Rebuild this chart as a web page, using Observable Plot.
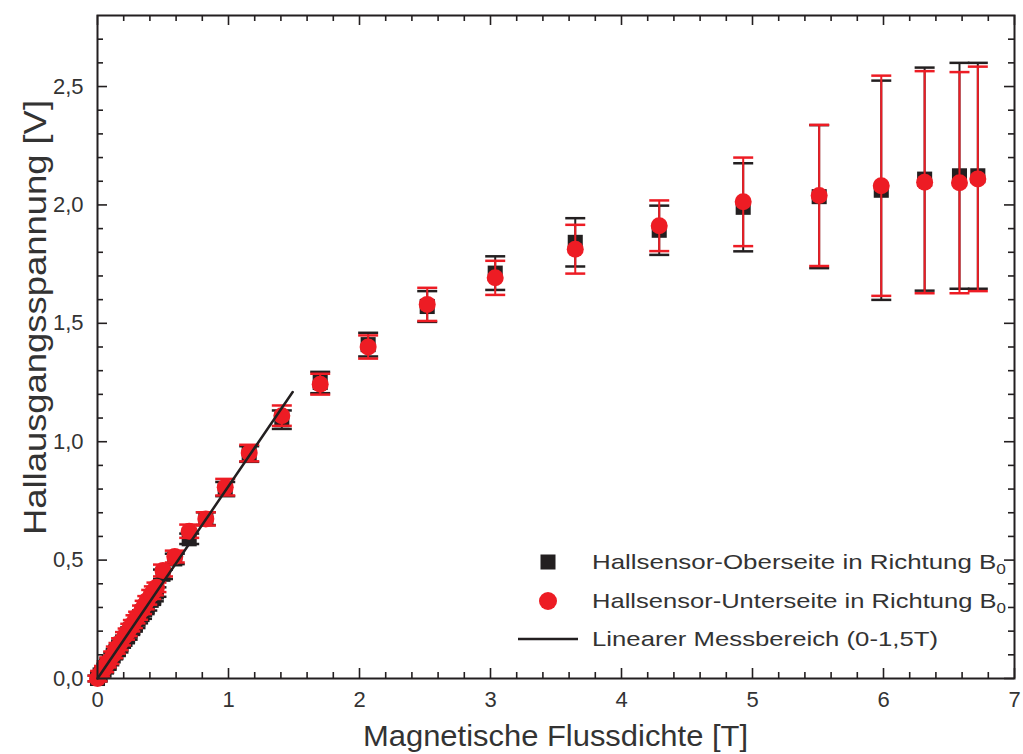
<!DOCTYPE html>
<html>
<head>
<meta charset="utf-8">
<script src="https://cdn.jsdelivr.net/npm/d3@7"></script>
<script src="https://cdn.jsdelivr.net/npm/@observablehq/plot@0.6"></script>
<style>
  html, body { margin: 0; padding: 0; background: #fff; }
  #chart { width: 1023px; height: 754px; }
</style>
</head>
<body>
<div id="chart"></div>
<script>
// Magnetic flux density B [T] at each measurement step
const fluxB = [0, 0.02, 0.05, 0.07, 0.09, 0.12, 0.14, 0.16, 0.18, 0.21, 0.23, 0.25, 0.27, 0.29, 0.31, 0.34, 0.36, 0.38, 0.41, 0.43, 0.45,
  0.50, 0.59, 0.70, 0.827, 0.975, 1.158, 1.407, 1.70, 2.066, 2.517, 3.036, 3.647, 4.288, 4.929, 5.509, 5.983, 6.314, 6.58, 6.72];

// Hall sensor, top side facing B0: output voltage [V] and uncertainty
const topV = [0, 0.015, 0.035, 0.05, 0.07, 0.095, 0.11, 0.125, 0.145, 0.165, 0.18, 0.20, 0.215, 0.23, 0.25, 0.27, 0.29, 0.305, 0.33, 0.345, 0.365,
  0.44, 0.505, 0.59, 0.675, 0.80, 0.948, 1.093, 1.25, 1.41, 1.571, 1.712, 1.842, 1.893, 1.99, 2.035, 2.062, 2.109, 2.123, 2.123];
const topErr = [0.012, 0.012, 0.013, 0.013, 0.014, 0.014, 0.015, 0.015, 0.015, 0.016, 0.016, 0.016, 0.017, 0.017, 0.017, 0.018, 0.018, 0.018, 0.019, 0.019, 0.02,
  0.02, 0.022, 0.022, 0.027, 0.03, 0.033, 0.039, 0.045, 0.05, 0.065, 0.071, 0.102, 0.104, 0.186, 0.302, 0.463, 0.471, 0.477, 0.477];

// Hall sensor, bottom side facing B0: output voltage [V] and uncertainty
const bottomV = [0, 0.02, 0.04, 0.06, 0.075, 0.10, 0.12, 0.135, 0.155, 0.18, 0.195, 0.215, 0.23, 0.25, 0.265, 0.29, 0.31, 0.33, 0.355, 0.37, 0.385,
  0.456, 0.515, 0.622, 0.674, 0.808, 0.952, 1.11, 1.243, 1.40, 1.58, 1.692, 1.813, 1.912, 2.013, 2.04, 2.081, 2.096, 2.094, 2.11];
const bottomErr = [0.012, 0.012, 0.013, 0.013, 0.014, 0.014, 0.015, 0.015, 0.015, 0.016, 0.016, 0.016, 0.017, 0.017, 0.017, 0.018, 0.018, 0.018, 0.019, 0.019, 0.02,
  0.025, 0.025, 0.028, 0.028, 0.035, 0.035, 0.043, 0.044, 0.049, 0.07, 0.072, 0.103, 0.107, 0.187, 0.298, 0.465, 0.469, 0.467, 0.474];

// Linear measuring range (0–1.5 T) fit line
const fitB = [0, 1.49];
const fitV = [0, 1.21];

// Axis ticks
const xMajor = [0, 1, 2, 3, 4, 5, 6, 7];
const xMinor = d3.range(1, 35).map(i => +(i * 0.2).toFixed(1)).filter(v => !Number.isInteger(v));
const yMajor = [0, 0.5, 1.0, 1.5, 2.0, 2.5];
const yMinor = d3.range(1, 28).map(i => +(i * 0.1).toFixed(1)).filter(v => Math.abs(v * 2 - Math.round(v * 2)) > 1e-6);

const legendLabels = [
  ["Hallsensor-Oberseite in Richtung B", "0"],
  ["Hallsensor-Unterseite in Richtung B", "0"],
  ["Linearer Messbereich (0-1,5T)", ""]
];
const xTitle = "Magnetische Flussdichte [T]";
const yTitle = "Hallausgangsspannung [V]";

const BLACK = "#231f20";
const RED = "#ed1c24";
const TEXT = "#333333";

const topSide = fluxB.map((B, i) => ({B, V: topV[i], err: topErr[i]}));
const bottomSide = fluxB.map((B, i) => ({B, V: bottomV[i], err: bottomErr[i]}));
const fit = fitB.map((B, i) => ({B, V: fitV[i]}));

// Horizontal error-bar cap with a fixed pixel width
const capSymbol = {
  draw(context, size) {
    const w = Math.sqrt(size / Math.PI);
    context.moveTo(-w, 0);
    context.lineTo(w, 0);
  }
};

const W = 1023, H = 754;
const mL = 97, mR = 9, mT = 15, mB = 76;
const innerW = W - mL - mR, innerH = H - mT - mB;
const majorLen = 10, minorLen = 6;

const commaFmt = d => d.toFixed(1).replace(".", ",");

function errorMarks(data, color) {
  return [
    Plot.ruleX(data, {x: "B", y1: d => d.V - d.err, y2: d => d.V + d.err, stroke: color, strokeWidth: 2}),
    Plot.dot(data, {x: "B", y: d => d.V + d.err, symbol: capSymbol, r: 10, fill: "none", stroke: color, strokeWidth: 2.5}),
    Plot.dot(data, {x: "B", y: d => d.V - d.err, symbol: capSymbol, r: 10, fill: "none", stroke: color, strokeWidth: 2.5})
  ];
}

const plot = Plot.plot({
  width: W,
  height: H,
  marginLeft: mL,
  marginRight: mR,
  marginTop: mT,
  marginBottom: mB,
  style: {fontFamily: "'Liberation Sans', Arial, sans-serif", fontSize: "22px", background: "#fff", color: TEXT},
  x: {domain: [0, 7]},
  y: {domain: [0, 2.8]},
  marks: [
    // inward ticks on all four sides
    Plot.ruleX(xMajor, {x: d => d, insetTop: innerH - majorLen, stroke: BLACK, strokeWidth: 1.6}),
    Plot.ruleX(xMinor, {x: d => d, insetTop: innerH - minorLen, stroke: BLACK, strokeWidth: 1.6}),
    Plot.ruleX(xMajor, {x: d => d, insetBottom: innerH - majorLen, stroke: BLACK, strokeWidth: 1.6}),
    Plot.ruleX(xMinor, {x: d => d, insetBottom: innerH - minorLen, stroke: BLACK, strokeWidth: 1.6}),
    Plot.ruleY(yMajor, {y: d => d, insetRight: innerW - majorLen, stroke: BLACK, strokeWidth: 1.6}),
    Plot.ruleY(yMinor, {y: d => d, insetRight: innerW - minorLen, stroke: BLACK, strokeWidth: 1.6}),
    Plot.ruleY(yMajor, {y: d => d, insetLeft: innerW - majorLen, stroke: BLACK, strokeWidth: 1.6}),
    Plot.ruleY(yMinor, {y: d => d, insetLeft: innerW - minorLen, stroke: BLACK, strokeWidth: 1.6}),
    Plot.axisX({ticks: xMajor, tickSize: 0, tickPadding: 13, tickFormat: d => String(d), label: null, fill: TEXT}),
    Plot.axisY({ticks: yMajor, tickSize: 0, tickPadding: 14, tickFormat: commaFmt, label: null, fill: TEXT}),
    // top side sensor
    ...errorMarks(topSide, BLACK),
    Plot.dot(topSide, {x: "B", y: "V", symbol: "square", r: 8.5, fill: BLACK}),
    // bottom side sensor
    ...errorMarks(bottomSide, RED),
    Plot.dot(bottomSide, {x: "B", y: "V", symbol: "circle", r: 8.5, fill: RED}),
    // linear range
    Plot.line(fit, {x: "B", y: "V", stroke: BLACK, strokeWidth: 2.5}),
    Plot.frame({stroke: BLACK, strokeWidth: 2})
  ]
});

const svg = d3.select(plot);

// Axis titles
svg.append("text")
  .attr("x", mL + innerW / 2)
  .attr("y", 746)
  .attr("text-anchor", "middle")
  .attr("font-size", 30)
  .attr("fill", TEXT)
  .attr("textLength", 385)
  .attr("lengthAdjust", "spacingAndGlyphs")
  .text(xTitle);

svg.append("text")
  .attr("transform", `translate(46, ${(100 + 535) / 2}) rotate(-90)`)
  .attr("text-anchor", "middle")
  .attr("font-size", 31)
  .attr("fill", TEXT)
  .attr("textLength", 435)
  .attr("lengthAdjust", "spacingAndGlyphs")
  .text(yTitle);

// Legend
const lg = svg.append("g").attr("text-anchor", "start");
const rowY = [562, 601, 639];
lg.append("rect").attr("x", 548 - 7.5).attr("y", rowY[0] - 7.5).attr("width", 15).attr("height", 15).attr("fill", BLACK);
lg.append("circle").attr("cx", 548).attr("cy", rowY[1]).attr("r", 9).attr("fill", RED);
lg.append("line").attr("x1", 518).attr("x2", 578).attr("y1", rowY[2]).attr("y2", rowY[2]).attr("stroke", BLACK).attr("stroke-width", 2.5);
const lengths = [414, 414, 346];
legendLabels.forEach(([main, sub], i) => {
  const t = lg.append("text")
    .attr("x", 592)
    .attr("y", rowY[i] + 7)
    .attr("text-anchor", "start")
    .attr("font-size", 21)
    .attr("fill", TEXT)
    .attr("textLength", lengths[i])
    .attr("lengthAdjust", "spacingAndGlyphs");
  t.append("tspan").text(main);
  if (sub) t.append("tspan").attr("font-size", 14).attr("dy", 5).text(sub);
});

document.getElementById("chart").appendChild(plot);
</script>
</body>
</html>
